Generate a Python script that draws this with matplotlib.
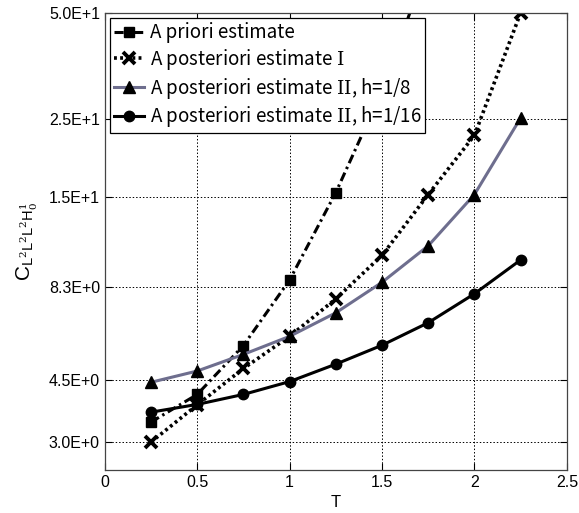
import matplotlib
matplotlib.use("Agg")
import matplotlib.pyplot as plt
from matplotlib.ticker import FixedLocator, FixedFormatter, NullLocator

# time steps and the four estimates (log scale on y)
T = [0.25, 0.5, 0.75, 1.0, 1.25, 1.5, 1.75, 2.0, 2.25]
prior = [3.42, 4.1, 5.65, 8.68, 15.4, 30.0, 70.0]
post1 = [3.0, 3.83, 4.86, 6.0, 7.67, 10.2, 15.2, 22.4, 50.0]
post2_h8 = [4.44, 4.78, 5.33, 6.0, 7.0, 8.55, 10.86, 15.2, 25.1]
post2_h16 = [3.65, 3.84, 4.10, 4.46, 5.0, 5.66, 6.56, 7.93, 9.9]

ytick_vals = [3.0, 4.5, 8.3, 15.0, 25.0, 50.0]
ytick_labels = ['3.0E+0', '4.5E+0', '8.3E+0', '1.5E+1', '2.5E+1', '5.0E+1']
xtick_vals = [0, 0.5, 1, 1.5, 2, 2.5]
xtick_labels = ['0', '0.5', '1', '1.5', '2', '2.5']

labels = ['A priori estimate',
          r'A posteriori estimate $\mathrm{I}$',
          r'A posteriori estimate $\mathrm{II}$, h=1/8',
          r'A posteriori estimate $\mathrm{II}$, h=1/16']

plt.rcParams['font.family'] = ['Liberation Sans', 'DejaVu Sans']
plt.rcParams['mathtext.fontset'] = 'custom'
plt.rcParams['mathtext.rm'] = 'DejaVu Serif'
plt.rcParams['mathtext.sf'] = 'Liberation Sans'

fig = plt.figure(figsize=(5.79, 5.13), dpi=100)
ax = fig.add_axes([0.181, 0.084, 0.798, 0.891])

ax.plot(T[:len(prior)], prior, color='black', lw=2.2,
        linestyle=(0, (3, 1.3, 0.8, 1.3)), marker='s', ms=7, label=labels[0])
ax.plot(T, post1, color='black', lw=2.6, linestyle=(0, (0.8, 0.9)),
        marker='x', ms=8, mew=2.8, label=labels[1])
ax.plot(T, post2_h8, color='#6e6e8e', lw=2.2, marker='^', ms=8,
        mfc='black', mec='black', label=labels[2])
ax.plot(T, post2_h16, color='black', lw=2.2, marker='o', ms=7.5,
        label=labels[3])

ax.set_yscale('log')
ax.set_xlim(0, 2.5)
ax.set_ylim(2.5, 50)
ax.yaxis.set_major_locator(FixedLocator(ytick_vals))
ax.yaxis.set_major_formatter(FixedFormatter(ytick_labels))
ax.yaxis.set_minor_locator(NullLocator())
ax.xaxis.set_major_locator(FixedLocator(xtick_vals))
ax.xaxis.set_major_formatter(FixedFormatter(xtick_labels))

ax.grid(True, color='black', linestyle=(0, (1.5, 2)), linewidth=0.7)
ax.tick_params(direction='in', top=True, right=True, length=5,
               labelsize=11.5, width=0.8)
for s in ax.spines.values():
    s.set_linewidth(0.9)
    s.set_color('#444444')

ax.set_xlabel('T', fontsize=12)
ax.set_ylabel(r'$\mathsf{C}_{\mathsf{L}^2\mathsf{L}^2\mathsf{L}^2\mathsf{H}^1_0}$',
              fontsize=15, labelpad=6)

leg = ax.legend(loc='upper left', prop={'family': ['Noto Sans CJK JP', 'DejaVu Sans'], 'size': 13.5},
                handlelength=1.6, handletextpad=0.3, borderpad=0.2,
                labelspacing=0.2, fancybox=False, framealpha=1,
                borderaxespad=0.3)
leg.get_frame().set_edgecolor('black')
leg.get_frame().set_linewidth(0.9)

fig.savefig('out.png', dpi=100)
